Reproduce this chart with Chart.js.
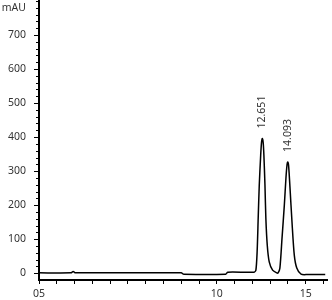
<!DOCTYPE html>
<html>
<head>
<meta charset="utf-8">
<script src="https://cdn.jsdelivr.net/npm/chart.js@4/dist/chart.umd.min.js"></script>
<style>
  html, body { margin: 0; padding: 0; background: #fff; }
  canvas { display: block; }
</style>
</head>
<body>
<canvas id="c" width="332" height="300"></canvas>
<script>
// ---- data ----
const timeMin = [0, 1.8, 1.92, 2.05, 8.0, 8.15, 10.5, 10.62, 12.1, 12.2, 12.27, 12.33, 12.39, 12.47, 12.52, 12.56, 12.61, 12.65, 12.71, 12.76, 12.84, 12.95, 13.14, 13.37, 13.45, 13.55, 13.67, 13.8, 13.89, 13.95, 13.99, 14.04, 14.12, 14.23, 14.36, 14.5, 14.74, 15.11, 16.1];
const signalMAU = [1, 1, 5, 1, 1, -3, -3, 3, 3, 9, 63, 162, 259, 347, 386, 396, 384, 347, 259, 162, 82, 33, 9, 1, 1, 15, 103, 200, 279, 318, 327, 316, 250, 151, 53, 15, -3, -4, -4];
const peakTimes = [12.56, 13.99];
const peakLabels = ['12.651', '14.093'];
const xTickValues = [0, 1, 2, 3, 4, 5, 6, 7, 8, 9, 10, 11, 12, 13, 14, 15, 16];
const xLabelValues = [0, 10, 15];
const xLabelTexts = ['05', '10', '15'];
const yTickValues = [0, 100, 200, 300, 400, 500, 600, 700];
const yUnit = 'mAU';

const FONT = { family: '"Noto Sans", "Open Sans", sans-serif', size: 10.5 };
const TEXT = '#333';

const extras = {
  id: 'extras',
  afterDraw(chart) {
    const ctx = chart.ctx;
    const y = chart.scales.y, x = chart.scales.x;
    const left = chart.chartArea.left;
    ctx.save();
    // minor y ticks
    ctx.strokeStyle = '#000';
    ctx.lineWidth = 1;
    for (let v = 20; v <= 800; v += 20) {
      if (v % 100 === 0 && v < 800) continue;
      const py = Math.round(y.getPixelForValue(v)) + 0.5;
      ctx.beginPath();
      ctx.moveTo(left - 3, py);
      ctx.lineTo(left, py);
      ctx.stroke();
    }
    // unit label
    ctx.fillStyle = TEXT;
    ctx.font = FONT.size + 'px ' + FONT.family;
    ctx.textAlign = 'right';
    ctx.textBaseline = 'middle';
    ctx.fillText(yUnit, 26, 8);
    // peak labels (rotated)
    peakTimes.forEach((t, i) => {
      const idx = timeMin.indexOf(t);
      const px = x.getPixelForValue(t);
      const py = y.getPixelForValue(signalMAU[idx]);
      ctx.save();
      ctx.translate(px, py - 10);
      ctx.rotate(-Math.PI / 2);
      ctx.textAlign = 'left';
      ctx.textBaseline = 'middle';
      ctx.fillText(peakLabels[i], 0, 0);
      ctx.restore();
    });
    ctx.restore();
  }
};

new Chart(document.getElementById('c'), {
  type: 'line',
  data: {
    datasets: [{
      data: timeMin.map((t, i) => ({ x: t, y: signalMAU[i] })),
      borderColor: '#000',
      borderWidth: 1.5,
      pointRadius: 0,
      fill: false,
      tension: 0.25
    }]
  },
  options: {
    responsive: false,
    animation: false,
    devicePixelRatio: 1,
    layout: { padding: { top: 1, right: 5, left: 0, bottom: 0 } },
    plugins: { legend: { display: false }, tooltip: { enabled: false } },
    scales: {
      x: {
        type: 'linear',
        min: 0,
        max: 16.2,
        afterBuildTicks: (s) => { s.ticks = xTickValues.map(v => ({ value: v })); },
        afterFit: (s) => { s.height = 20; s.paddingLeft = 0; s.paddingRight = 0; },
        ticks: {
          autoSkip: false,
          maxRotation: 0,
          padding: 4,
          color: TEXT,
          font: FONT,
          callback: (v) => { const i = xLabelValues.indexOf(v); return i >= 0 ? xLabelTexts[i] : ''; }
        },
        grid: { drawOnChartArea: false, tickLength: 4, color: '#000', lineWidth: 1 },
        border: { display: true, color: '#000', width: 2 }
      },
      y: {
        type: 'linear',
        min: -20,
        max: 800,
        afterBuildTicks: (s) => { s.ticks = yTickValues.map(v => ({ value: v })); },
        afterFit: (s) => { s.width = 39; s.paddingTop = 0; s.paddingBottom = 0; },
        ticks: { padding: 8, color: TEXT, font: FONT },
        grid: { drawOnChartArea: false, tickLength: 5, color: '#000', lineWidth: 1 },
        border: { display: true, color: '#000', width: 2 }
      }
    }
  },
  plugins: [extras]
});
</script>
</body>
</html>
